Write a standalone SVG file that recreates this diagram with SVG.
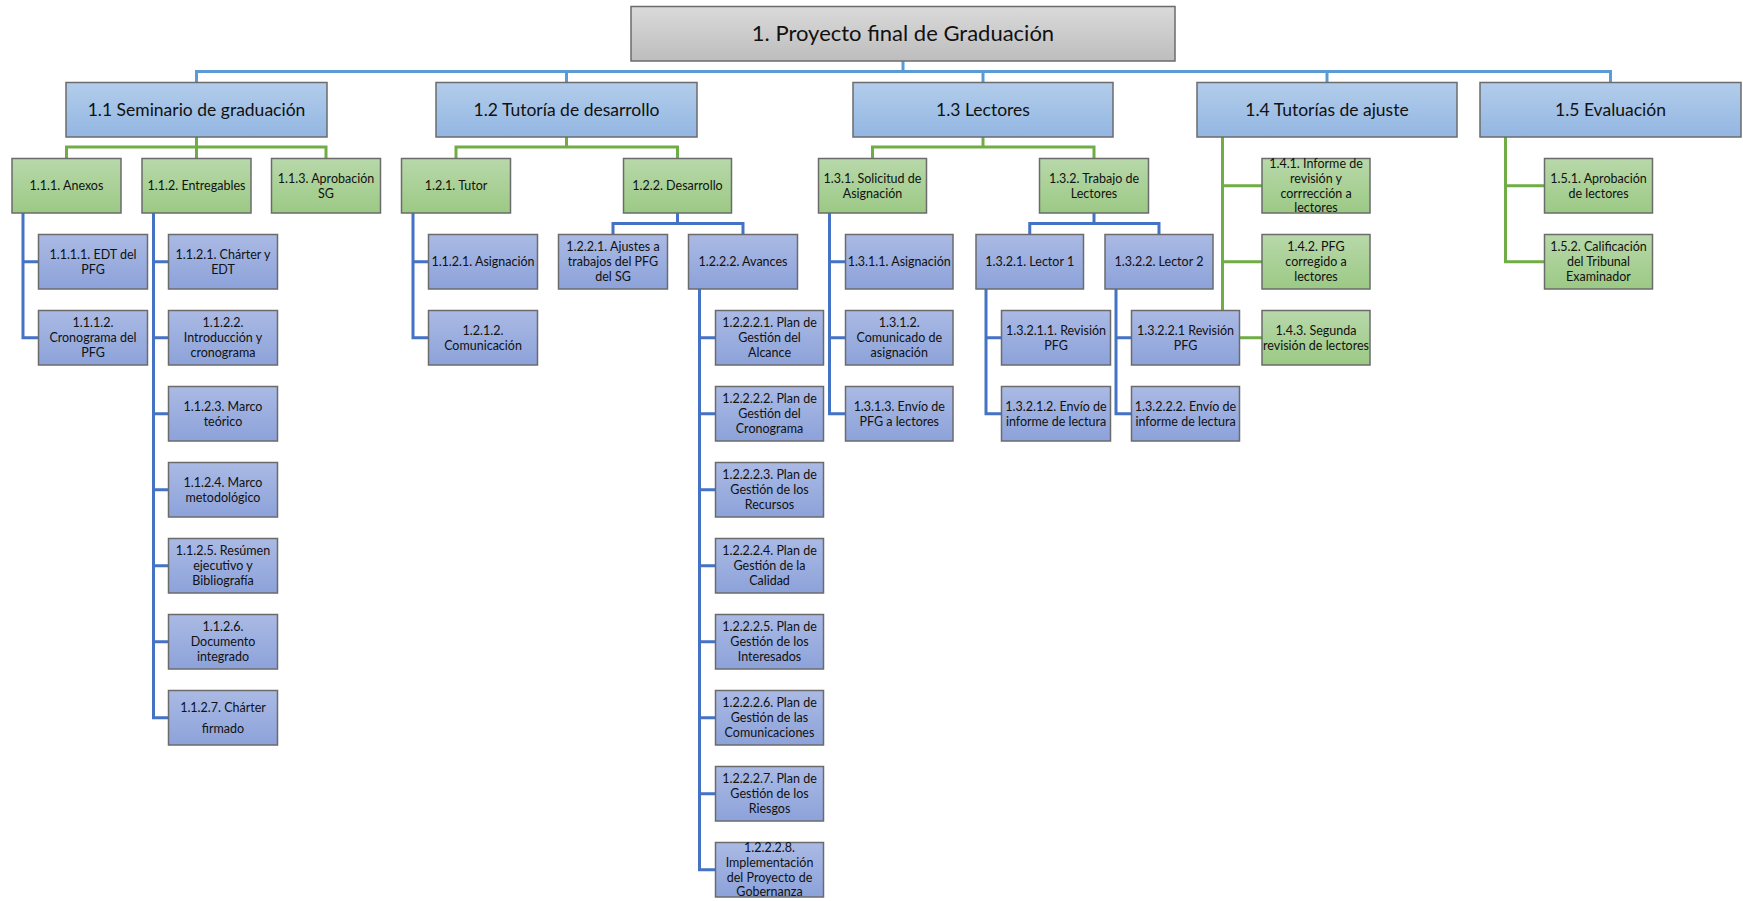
<svg xmlns="http://www.w3.org/2000/svg" width="1743" height="901" viewBox="0 0 1743 901">
<defs>
<linearGradient id="gGray" x1="0" y1="0" x2="0" y2="1"><stop offset="0" stop-color="#dadada"/><stop offset="1" stop-color="#bdbdbd"/></linearGradient>
<linearGradient id="gBlue" x1="0" y1="0" x2="0" y2="1"><stop offset="0" stop-color="#b3cdeb"/><stop offset="1" stop-color="#92b6e2"/></linearGradient>
<linearGradient id="gGreen" x1="0" y1="0" x2="0" y2="1"><stop offset="0" stop-color="#b8d8aa"/><stop offset="1" stop-color="#9cc985"/></linearGradient>
<linearGradient id="gLav" x1="0" y1="0" x2="0" y2="1"><stop offset="0" stop-color="#abbae4"/><stop offset="1" stop-color="#8ca2da"/></linearGradient>
</defs>
<style>
rect{stroke:#6b6b6b;stroke-width:1.5}
.top{fill:url(#gGray)}
.l1{fill:url(#gBlue)}
.l2{fill:url(#gGreen)}
.l3{fill:url(#gLav)}
text{font-family:Lato,"Liberation Sans",sans-serif;fill:#111;text-anchor:middle}
.t0{font-size:22px}
.t1{font-size:17.5px}
.t2{font-size:12.5px}
.cb{fill:none;stroke:#5b9bd5;stroke-width:3}
.cd{fill:none;stroke:#4472c4;stroke-width:3}
.cg{fill:none;stroke:#70ad47;stroke-width:3}
</style>
<g id="connectors">
<path class="cb" d="M903 61V71.5M196.5 82.5V71.5H1610.5V82.5M566.5 71.5V82.5M983 71.5V82.5M1327 71.5V82.5"/>
<path class="cg" d="M196.5 137V147M66.5 158.5V147H326V158.5M196.5 147V158.5"/>
<path class="cg" d="M566.5 137V147M456 158.5V147H677.5V158.5"/>
<path class="cg" d="M983 137V147M872.5 158.5V147H1094V158.5"/>
<path class="cg" d="M1222.5 137V310.5M1222.5 185.75H1262M1222.5 261.75H1262M1239.5 337.75H1262"/>
<path class="cg" d="M1505.5 137V261.75H1544.5M1505.5 185.75H1544.5"/>
<path class="cd" d="M23 213V337.75H38.5M23 261.75H38.5"/>
<path class="cd" d="M153.5 213V717.75H168.5M153.5 261.75H168.5M153.5 337.75H168.5M153.5 413.75H168.5M153.5 489.75H168.5M153.5 565.75H168.5M153.5 641.75H168.5"/>
<path class="cd" d="M413 213V337.75H428.5M413 261.75H428.5"/>
<path class="cd" d="M677.5 213V223.5M613 234.5V223.5H743V234.5"/>
<path class="cd" d="M699.5 289V869.75H715.5M699.5 337.75H715.5M699.5 413.75H715.5M699.5 489.75H715.5M699.5 565.75H715.5M699.5 641.75H715.5M699.5 717.75H715.5M699.5 793.75H715.5"/>
<path class="cd" d="M829.5 213V413.75H845.5M829.5 261.75H845.5M829.5 337.75H845.5"/>
<path class="cd" d="M1094 213V223.5M1029.75 234.5V223.5H1159V234.5"/>
<path class="cd" d="M986 289V413.75H1001.5M986 337.75H1001.5"/>
<path class="cd" d="M1116 289V413.75H1131.5M1116 337.75H1131.5"/>
</g>
<g id="n1"><rect class="top" x="631" y="6.5" width="544" height="54.5"/><text class="t0" x="903" y="41.4">1. Proyecto final de Graduación</text></g>
<g id="n1_1"><rect class="l1" x="66" y="82.5" width="261" height="54.5"/><text class="t1" x="196.5" y="116.3">1.1 Seminario de graduación</text></g>
<g id="n1_2"><rect class="l1" x="436" y="82.5" width="261" height="54.5"/><text class="t1" x="566.5" y="116.3">1.2 Tutoría de desarrollo</text></g>
<g id="n1_3"><rect class="l1" x="853" y="82.5" width="260" height="54.5"/><text class="t1" x="983" y="116.3">1.3 Lectores</text></g>
<g id="n1_4"><rect class="l1" x="1197" y="82.5" width="260" height="54.5"/><text class="t1" x="1327" y="116.3">1.4 Tutorías de ajuste</text></g>
<g id="n1_5"><rect class="l1" x="1480" y="82.5" width="261" height="54.5"/><text class="t1" x="1610.5" y="116.3">1.5 Evaluación</text></g>

<g id="n1_1_1"><rect class="l2" x="12" y="158.5" width="109" height="54.5"/><text class="t2" x="66.5" y="190.15">1.1.1. Anexos</text></g>
<g id="n1_1_2"><rect class="l2" x="142" y="158.5" width="109" height="54.5"/><text class="t2" x="196.5" y="190.15">1.1.2. Entregables</text></g>
<g id="n1_1_3"><rect class="l2" x="271.5" y="158.5" width="109" height="54.5"/><text class="t2"><tspan x="326" y="182.8">1.1.3. Aprobación</tspan><tspan x="326" y="197.5">SG</tspan></text></g>
<g id="n1_2_1"><rect class="l2" x="401.5" y="158.5" width="109" height="54.5"/><text class="t2" x="456" y="190.15">1.2.1. Tutor</text></g>
<g id="n1_2_2"><rect class="l2" x="623.5" y="158.5" width="108" height="54.5"/><text class="t2" x="677.5" y="190.15">1.2.2. Desarrollo</text></g>
<g id="n1_3_1"><rect class="l2" x="818.5" y="158.5" width="108" height="54.5"/><text class="t2"><tspan x="872.5" y="182.8">1.3.1. Solicitud de</tspan><tspan x="872.5" y="197.5">Asignación</tspan></text></g>
<g id="n1_3_2"><rect class="l2" x="1039.5" y="158.5" width="109" height="54.5"/><text class="t2"><tspan x="1094" y="182.8">1.3.2. Trabajo de</tspan><tspan x="1094" y="197.5">Lectores</tspan></text></g>
<g id="n1_4_1"><rect class="l2" x="1262" y="158.5" width="108" height="54.5"/><text class="t2"><tspan x="1316" y="168.1">1.4.1. Informe de</tspan><tspan x="1316" y="182.8">revisión y</tspan><tspan x="1316" y="197.5">corrrección a</tspan><tspan x="1316" y="212.2">lectores</tspan></text></g>
<g id="n1_4_2"><rect class="l2" x="1262" y="234.5" width="108" height="54.5"/><text class="t2"><tspan x="1316" y="251.45">1.4.2. PFG</tspan><tspan x="1316" y="266.15">corregido a</tspan><tspan x="1316" y="280.85">lectores</tspan></text></g>
<g id="n1_4_3"><rect class="l2" x="1262" y="310.5" width="108" height="54.5"/><text class="t2"><tspan x="1316" y="334.8">1.4.3. Segunda</tspan><tspan x="1316" y="349.5">revisión de lectores</tspan></text></g>
<g id="n1_5_1"><rect class="l2" x="1544.5" y="158.5" width="108" height="54.5"/><text class="t2"><tspan x="1598.5" y="182.8">1.5.1. Aprobación</tspan><tspan x="1598.5" y="197.5">de lectores</tspan></text></g>
<g id="n1_5_2"><rect class="l2" x="1544.5" y="234.5" width="108" height="54.5"/><text class="t2"><tspan x="1598.5" y="251.45">1.5.2. Calificación</tspan><tspan x="1598.5" y="266.15">del Tribunal</tspan><tspan x="1598.5" y="280.85">Examinador</tspan></text></g>

<g id="n1_1_1_1"><rect class="l3" x="38.5" y="234.5" width="109" height="54.5"/><text class="t2"><tspan x="93" y="258.8">1.1.1.1. EDT del</tspan><tspan x="93" y="273.5">PFG</tspan></text></g>
<g id="n1_1_1_2"><rect class="l3" x="38.5" y="310.5" width="109" height="54.5"/><text class="t2"><tspan x="93" y="327.45">1.1.1.2.</tspan><tspan x="93" y="342.15">Cronograma del</tspan><tspan x="93" y="356.85">PFG</tspan></text></g>
<g id="n1_1_2_1"><rect class="l3" x="168.5" y="234.5" width="109" height="54.5"/><text class="t2"><tspan x="223" y="258.8">1.1.2.1. Chárter y</tspan><tspan x="223" y="273.5">EDT</tspan></text></g>
<g id="n1_1_2_2"><rect class="l3" x="168.5" y="310.5" width="109" height="54.5"/><text class="t2"><tspan x="223" y="327.45">1.1.2.2.</tspan><tspan x="223" y="342.15">Introducción y</tspan><tspan x="223" y="356.85">cronograma</tspan></text></g>
<g id="n1_1_2_3"><rect class="l3" x="168.5" y="386.5" width="109" height="54.5"/><text class="t2"><tspan x="223" y="410.8">1.1.2.3. Marco</tspan><tspan x="223" y="425.5">teórico</tspan></text></g>
<g id="n1_1_2_4"><rect class="l3" x="168.5" y="462.5" width="109" height="54.5"/><text class="t2"><tspan x="223" y="486.8">1.1.2.4. Marco</tspan><tspan x="223" y="501.5">metodológico</tspan></text></g>
<g id="n1_1_2_5"><rect class="l3" x="168.5" y="538.5" width="109" height="54.5"/><text class="t2"><tspan x="223" y="555.45">1.1.2.5. Resúmen</tspan><tspan x="223" y="570.15">ejecutivo y</tspan><tspan x="223" y="584.85">Bibliografía</tspan></text></g>
<g id="n1_1_2_6"><rect class="l3" x="168.5" y="614.5" width="109" height="54.5"/><text class="t2"><tspan x="223" y="631.45">1.1.2.6.</tspan><tspan x="223" y="646.15">Documento</tspan><tspan x="223" y="660.85">integrado</tspan></text></g>
<g id="n1_1_2_7"><rect class="l3" x="168.5" y="690.5" width="109" height="54.5"/><text class="t2"><tspan x="223" y="712.1">1.1.2.7. Chárter</tspan><tspan x="223" y="733.1">firmado</tspan></text></g>

<g id="n1_2_1_1"><rect class="l3" x="428.5" y="234.5" width="109" height="54.5"/><text class="t2" x="483" y="266.15">1.1.2.1. Asignación</text></g>
<g id="n1_2_1_2"><rect class="l3" x="428.5" y="310.5" width="109" height="54.5"/><text class="t2"><tspan x="483" y="334.8">1.2.1.2.</tspan><tspan x="483" y="349.5">Comunicación</tspan></text></g>
<g id="n1_2_2_1"><rect class="l3" x="558.5" y="234.5" width="109" height="54.5"/><text class="t2"><tspan x="613" y="251.45">1.2.2.1. Ajustes a</tspan><tspan x="613" y="266.15">trabajos del PFG</tspan><tspan x="613" y="280.85">del SG</tspan></text></g>
<g id="n1_2_2_2"><rect class="l3" x="688.5" y="234.5" width="109" height="54.5"/><text class="t2" x="743" y="266.15">1.2.2.2. Avances</text></g>
<g id="n1_2_2_2_1"><rect class="l3" x="715.5" y="310.5" width="108" height="54.5"/><text class="t2"><tspan x="769.5" y="327.45">1.2.2.2.1. Plan de</tspan><tspan x="769.5" y="342.15">Gestión del</tspan><tspan x="769.5" y="356.85">Alcance</tspan></text></g>
<g id="n1_2_2_2_2"><rect class="l3" x="715.5" y="386.5" width="108" height="54.5"/><text class="t2"><tspan x="769.5" y="403.45">1.2.2.2.2. Plan de</tspan><tspan x="769.5" y="418.15">Gestión del</tspan><tspan x="769.5" y="432.85">Cronograma</tspan></text></g>
<g id="n1_2_2_2_3"><rect class="l3" x="715.5" y="462.5" width="108" height="54.5"/><text class="t2"><tspan x="769.5" y="479.45">1.2.2.2.3. Plan de</tspan><tspan x="769.5" y="494.15">Gestión de los</tspan><tspan x="769.5" y="508.85">Recursos</tspan></text></g>
<g id="n1_2_2_2_4"><rect class="l3" x="715.5" y="538.5" width="108" height="54.5"/><text class="t2"><tspan x="769.5" y="555.45">1.2.2.2.4. Plan de</tspan><tspan x="769.5" y="570.15">Gestión de la</tspan><tspan x="769.5" y="584.85">Calidad</tspan></text></g>
<g id="n1_2_2_2_5"><rect class="l3" x="715.5" y="614.5" width="108" height="54.5"/><text class="t2"><tspan x="769.5" y="631.45">1.2.2.2.5. Plan de</tspan><tspan x="769.5" y="646.15">Gestión de los</tspan><tspan x="769.5" y="660.85">Interesados</tspan></text></g>
<g id="n1_2_2_2_6"><rect class="l3" x="715.5" y="690.5" width="108" height="54.5"/><text class="t2"><tspan x="769.5" y="707.45">1.2.2.2.6. Plan de</tspan><tspan x="769.5" y="722.15">Gestión de las</tspan><tspan x="769.5" y="736.85">Comunicaciones</tspan></text></g>
<g id="n1_2_2_2_7"><rect class="l3" x="715.5" y="766.5" width="108" height="54.5"/><text class="t2"><tspan x="769.5" y="783.45">1.2.2.2.7. Plan de</tspan><tspan x="769.5" y="798.15">Gestión de los</tspan><tspan x="769.5" y="812.85">Riesgos</tspan></text></g>
<g id="n1_2_2_2_8"><rect class="l3" x="715.5" y="842.5" width="108" height="54.5"/><text class="t2"><tspan x="769.5" y="852.1">1.2.2.2.8.</tspan><tspan x="769.5" y="866.8">Implementación</tspan><tspan x="769.5" y="881.5">del Proyecto de</tspan><tspan x="769.5" y="896.2">Gobernanza</tspan></text></g>

<g id="n1_3_1_1"><rect class="l3" x="845.5" y="234.5" width="107.5" height="54.5"/><text class="t2" x="899.25" y="266.15">1.3.1.1. Asignación</text></g>
<g id="n1_3_1_2"><rect class="l3" x="845.5" y="310.5" width="107.5" height="54.5"/><text class="t2"><tspan x="899.25" y="327.45">1.3.1.2.</tspan><tspan x="899.25" y="342.15">Comunicado de</tspan><tspan x="899.25" y="356.85">asignación</tspan></text></g>
<g id="n1_3_1_3"><rect class="l3" x="845.5" y="386.5" width="107.5" height="54.5"/><text class="t2"><tspan x="899.25" y="410.8">1.3.1.3. Envío de</tspan><tspan x="899.25" y="425.5">PFG a lectores</tspan></text></g>
<g id="n1_3_2_1"><rect class="l3" x="976" y="234.5" width="107.5" height="54.5"/><text class="t2" x="1029.75" y="266.15">1.3.2.1. Lector 1</text></g>
<g id="n1_3_2_2"><rect class="l3" x="1105" y="234.5" width="108" height="54.5"/><text class="t2" x="1159" y="266.15">1.3.2.2. Lector 2</text></g>
<g id="n1_3_2_1_1"><rect class="l3" x="1001.5" y="310.5" width="109" height="54.5"/><text class="t2"><tspan x="1056" y="334.8">1.3.2.1.1. Revisión</tspan><tspan x="1056" y="349.5">PFG</tspan></text></g>
<g id="n1_3_2_1_2"><rect class="l3" x="1001.5" y="386.5" width="109" height="54.5"/><text class="t2"><tspan x="1056" y="410.8">1.3.2.1.2. Envío de</tspan><tspan x="1056" y="425.5">informe de lectura</tspan></text></g>
<g id="n1_3_2_2_1"><rect class="l3" x="1131.5" y="310.5" width="108" height="54.5"/><text class="t2"><tspan x="1185.5" y="334.8">1.3.2.2.1 Revisión</tspan><tspan x="1185.5" y="349.5">PFG</tspan></text></g>
<g id="n1_3_2_2_2"><rect class="l3" x="1131.5" y="386.5" width="108" height="54.5"/><text class="t2"><tspan x="1185.5" y="410.8">1.3.2.2.2. Envío de</tspan><tspan x="1185.5" y="425.5">informe de lectura</tspan></text></g>
</svg>
